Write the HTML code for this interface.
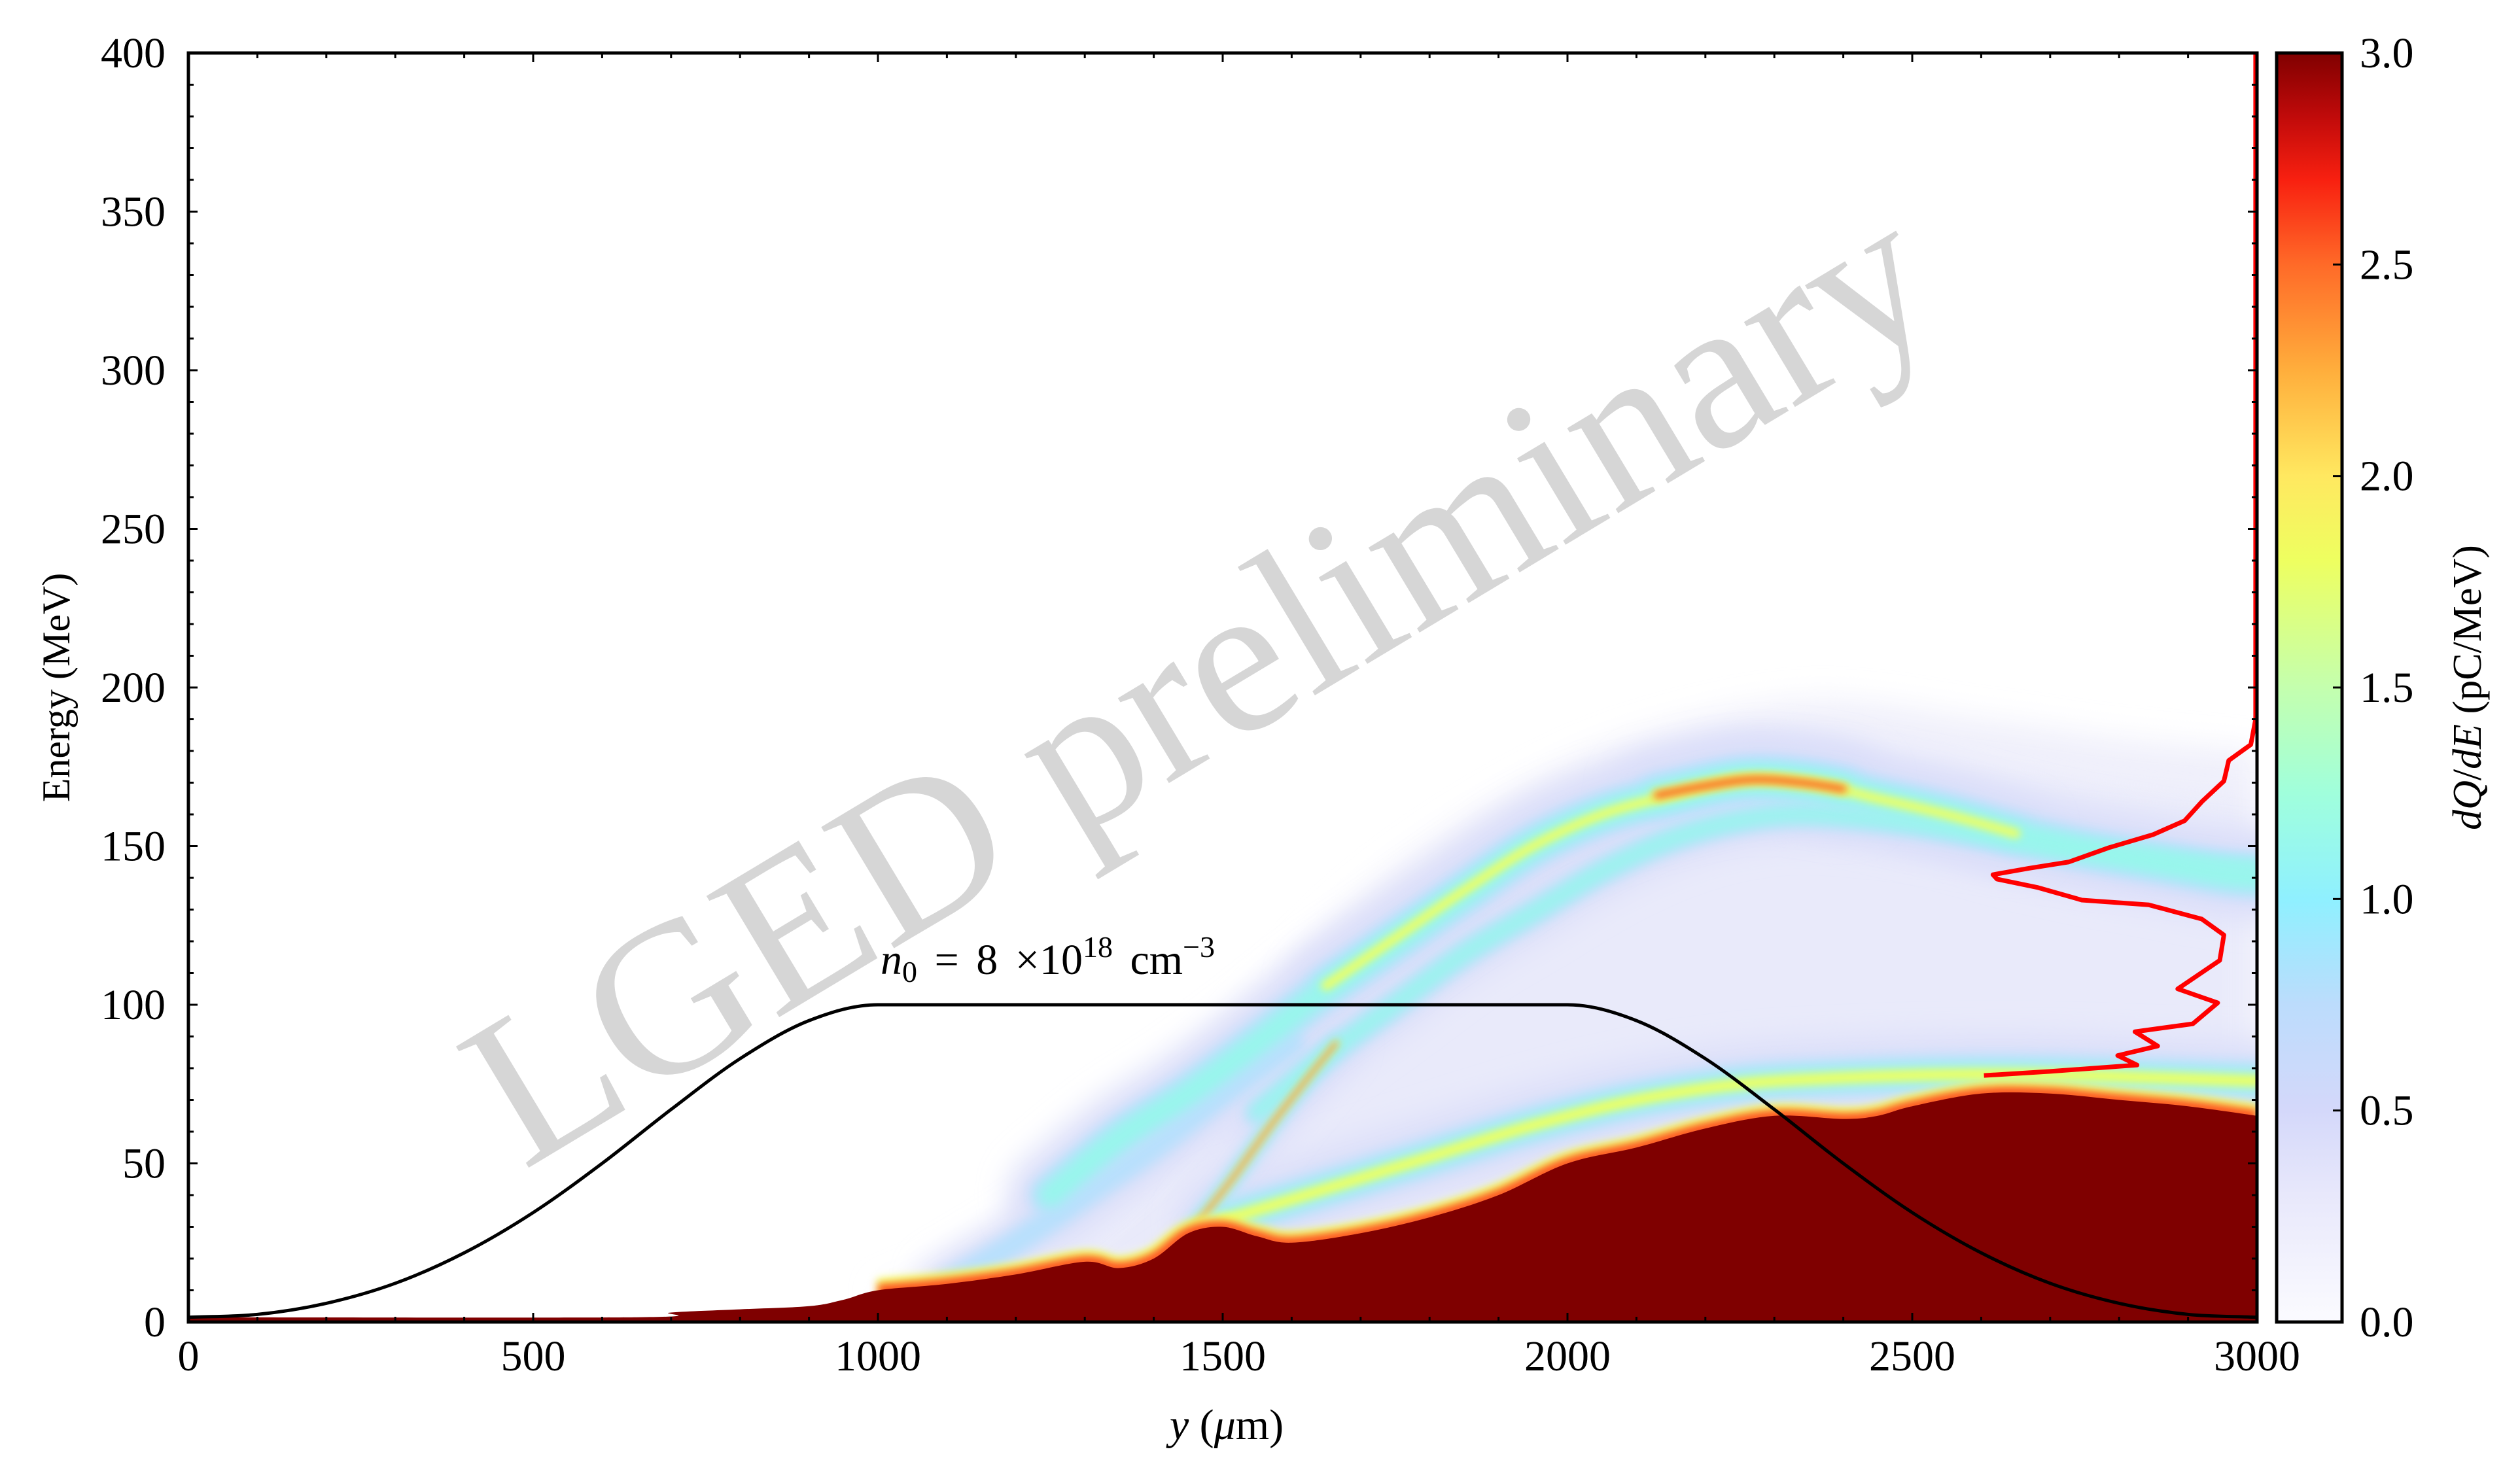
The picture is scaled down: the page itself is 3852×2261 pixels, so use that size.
<!DOCTYPE html>
<html><head><meta charset="utf-8">
<style>
html,body{margin:0;padding:0;background:#fff;}
svg{display:block;}
text{font-family:"Liberation Serif",serif;fill:#000;}
</style></head>
<body>
<svg id="chart" width="3852" height="2261" viewBox="0 0 3852 2261" xmlns="http://www.w3.org/2000/svg">
<defs>
  <clipPath id="plotClip"><rect x="288" y="81" width="3162" height="1940"/></clipPath>
  <filter id="blurWide" filterUnits="userSpaceOnUse" x="0" y="0" width="3852" height="2261"><feGaussianBlur stdDeviation="22"/></filter>
  <filter id="blurMid" filterUnits="userSpaceOnUse" x="0" y="0" width="3852" height="2261"><feGaussianBlur stdDeviation="10"/></filter>
  <filter id="blurSmall" filterUnits="userSpaceOnUse" x="0" y="0" width="3852" height="2261"><feGaussianBlur stdDeviation="6"/></filter>
  <linearGradient id="cbGrad" x1="0" y1="1" x2="0" y2="0">
    <stop offset="0" stop-color="#fbfbff"/>
    <stop offset="0.1" stop-color="#e8e8fb"/>
    <stop offset="0.1667" stop-color="#d4d8fa"/>
    <stop offset="0.25" stop-color="#bcdcfc"/>
    <stop offset="0.3333" stop-color="#8ff0ff"/>
    <stop offset="0.4167" stop-color="#a0ffdc"/>
    <stop offset="0.5" stop-color="#c4ffae"/>
    <stop offset="0.6" stop-color="#eeff60"/>
    <stop offset="0.6667" stop-color="#ffe860"/>
    <stop offset="0.75" stop-color="#ffae3c"/>
    <stop offset="0.8333" stop-color="#ff6a28"/>
    <stop offset="0.9" stop-color="#f82010"/>
    <stop offset="0.95" stop-color="#c00a0a"/>
    <stop offset="1" stop-color="#800000"/>
  </linearGradient>
</defs>
<g id="watermark-layer"></g>
<g id="heat-layer" clip-path="url(#plotClip)"></g>
<g id="line-layer" clip-path="url(#plotClip)"></g>
<g id="axes-layer"></g>
</svg>
<script>
// ---------- data ----------
const densityX = [0,100,200,300,400,500,600,700,800,900,1000,1100,1200,1300,1400,1500,1600,1700,1800,1900,2000,2100,2200,2300,2400,2500,2600,2700,2800,2900,3000];
const densityN = [1.5,2.4,5.9,12.2,21.8,34.5,50,67,83,95,100,100,100,100,100,100,100,100,100,100,100,95,83,67,50,34.5,21.8,12.2,5.9,2.4,1.5];

const boundaryX = [0,650,700,800,900,950,1000,1100,1200,1300,1350,1400,1450,1500,1550,1600,1700,1800,1900,2000,2100,2200,2300,2400,2450,2500,2600,2700,2800,2900,3000];
const boundaryE = [1.5,1.5,3,4,5,7,10,12,15,19,17,20,28,30,27,25,28,33,40,50,55,61,65,64,65,68,72,72,70,68,65];

const envelopeX = [1000,1100,1300,1500,1700,1900,2100,2350,2600,2800,3000];
const envelopeE = [10,20,48,92,135,165,185,196,190,184,180];

const upperBandX = [1250,1350,1450,1550,1650,1750,1850,1950,2050,2150,2250,2350,2450,2550,2650,2750,2850,2950,3000];
const upperBandE = [40,58,72,88,105,120,135,150,160,166,171,170,165,160,154,149,145,141,140];
const upperYellowX = [1650,1750,1850,1950,2050,2150,2250,2350,2450,2550,2650];
const upperYellowE = [106,121,136,150,160,166,171,170,165,160,154];
const innerBandX = [1550,1650,1750,1850,1950,2050,2150,2250,2350,2500,2700,2900,3000];
const innerBandE = [66,84,100,116,129,142,152,158,160,157,150,145,143];
const leftBandX = [1100,1200,1300,1400,1500,1600];
const leftBandE = [12,25,40,55,72,88];
const lowerBandX = [1500,1650,1800,1950,2100,2250,2400,2550,2700,2850,3000];
const lowerBandE = [32,42,52,62,70,75,77,78,78,77,76];
const streakX = [1455,1510,1570,1620,1665];
const streakE = [29,44,62,76,88];
const peakCoreX = [2130,2200,2270,2340,2400];
const peakCoreE = [166,169,171,170,168];

const spectrumX = [2604,2700,2826,2798,2856,2823,2907,2943,2885,2946,2952,2920,2843,2746,2681,2623,2617,2669,2727,2785,2849,2895,2920,2952,2959,2991,2998,2998];
const spectrumE = [77.7,79,81,84,87,91.5,94,100.6,105,114,122,127,131.5,133,137,139.6,141,143,145,149.5,153.6,158,164,170.5,177,182,190,400];

const xTicks = [0,500,1000,1500,2000,2500,3000];
const yTicks = [0,50,100,150,200,250,300,350,400];
const cbTicks = [0.0,0.5,1.0,1.5,2.0,2.5,3.0];

// ---------- scales ----------
const PL=288, PR=3450, PT=81, PB=2021;
const sx = v => PL + (v/3000)*(PR-PL);
const sy = v => PB - (v/400)*(PB-PT);
const CBL=3480, CBR=3580;
const cy = v => PB - (v/3)*(PB-PT);
const NS='http://www.w3.org/2000/svg';
function mk(tag, attrs, parent){const e=document.createElementNS(NS,tag);for(const k in attrs)e.setAttribute(k,attrs[k]);if(parent)parent.appendChild(e);return e;}
function smoothPath(xs, es){
  const p = xs.map((x,i)=>[sx(x), sy(es[i])]);
  let d = `M${p[0][0]},${p[0][1]}`;
  for(let i=0;i<p.length-1;i++){
    const p0=p[Math.max(0,i-1)], p1=p[i], p2=p[i+1], p3=p[Math.min(p.length-1,i+2)];
    const c1=[p1[0]+(p2[0]-p0[0])/6, p1[1]+(p2[1]-p0[1])/6];
    const c2=[p2[0]-(p3[0]-p1[0])/6, p2[1]-(p3[1]-p1[1])/6];
    d += ` C${c1[0]},${c1[1]} ${c2[0]},${c2[1]} ${p2[0]},${p2[1]}`;
  }
  return d;
}
function monotonePath(xs, ys){
  const n=xs.length, dl=[], m=new Array(n);
  for(let i=0;i<n-1;i++) dl.push((ys[i+1]-ys[i])/(xs[i+1]-xs[i]));
  m[0]=dl[0]; m[n-1]=dl[n-2];
  for(let i=1;i<n-1;i++) m[i] = (dl[i-1]*dl[i]<=0)?0:(dl[i-1]+dl[i])/2;
  for(let i=0;i<n-1;i++){ if(dl[i]===0){m[i]=0;m[i+1]=0;} }
  let d='';
  for(let i=0;i<n-1;i++){
    const h=xs[i+1]-xs[i];
    if(i===0) d+=`M${sx(xs[0])},${sy(ys[0])}`;
    d+=` C${sx(xs[i]+h/3)},${sy(ys[i]+m[i]*h/3)} ${sx(xs[i+1]-h/3)},${sy(ys[i+1]-m[i+1]*h/3)} ${sx(xs[i+1])},${sy(ys[i+1])}`;
  }
  return d;
}
function linePath(xs, es){return xs.map((x,i)=>(i?'L':'M')+sx(x)+','+sy(es[i])).join(' ');}

// ---------- watermark ----------
const wm = document.getElementById('watermark-layer');
const wt = mk('text',{x:800,y:1790,'font-size':330,fill:'#d6d6d6',textLength:2540,lengthAdjust:'spacingAndGlyphs',transform:'rotate(-31 800 1790)'},wm);


wt.style.fill='#d6d6d6';
wt.textContent='LGED preliminary';

// ---------- heatmap ----------
const heat = document.getElementById('heat-layer');
const envD = smoothPath(envelopeX, envelopeE) + ' L' + sx(3000)+','+sy(60) + ' L'+sx(2000)+','+sy(45)+' L'+sx(1400)+','+sy(18)+' L'+sx(1000)+','+sy(8)+' Z';
const env = mk('path',{d:envD,fill:'#f0f0fb',filter:'url(#blurWide)'},heat);


const env2 = mk('path',{d:envD,fill:'#e4e6fa',opacity:0.5,filter:'url(#blurWide)',transform:'translate(0,80)'},heat);



const bandLayers = [
  ['#dcdff9', 5, 'url(#blurWide)', 0],
  ['#b8e0fd', 2.4, 'url(#blurMid)', 0],
  ['#98f6ec', 1.4, 'url(#blurMid)', 1],
  ['#eaff66', 0.75, 'url(#blurSmall)', 2],
  ['#ff5a20', 0.4, 'url(#blurSmall)', 3]
];
const bands = [];
function band(name, xs, es, w, level){ bands.push({name, xs, es, w, level}); }
band('left-band', leftBandX, leftBandE, 16, 0);
band('inner-band', innerBandX, innerBandE, 16, 1);
band('upper-band', upperBandX, upperBandE, 26, 1);
band('upper-band-yellow', upperYellowX, upperYellowE, 20, 2);
band('lower-band', lowerBandX, lowerBandE, 24, 2);
band('peak-core', peakCoreX, peakCoreE, 26, 3);
band('red-streak', streakX, streakE, 10, 3);
// draw layer by layer across all bands so cores are never covered by glows
bandLayers.forEach((l, li)=>{
  bands.forEach(b=>{
    if(b.level < l[3]) return;
    const p = mk('path',{d:smoothPath(b.xs,b.es),fill:'none',stroke:l[0],'stroke-width':b.w*l[1],'stroke-linecap':'round',filter:l[2]},heat);
    
    
  });
});

// dark red bulk
const edgeStart = boundaryX.findIndex(v=>v>=1000);
const bEdgeUpper = smoothPath(boundaryX.slice(edgeStart), boundaryE.slice(edgeStart));
const bEdge = smoothPath(boundaryX, boundaryE);
const edge1 = mk('path',{d:bEdgeUpper,fill:'none',stroke:'#f4ff60','stroke-width':36,filter:'url(#blurSmall)'},heat);


const edge2 = mk('path',{d:bEdgeUpper,fill:'none',stroke:'#ff5020','stroke-width':18,filter:'url(#blurSmall)'},heat);


const bulk = mk('path',{d:bEdge+` L${sx(3000)+10},${sy(boundaryE[boundaryE.length-1])} L${sx(3000)+10},${PB+10} L${sx(0)-10},${PB+10} L${sx(0)-10},${sy(boundaryE[0])} Z`,fill:'#7f0000'},heat);



// ---------- lines ----------
const ll = document.getElementById('line-layer');
const dens = mk('path',{d:monotonePath(densityX,densityN),fill:'none',stroke:'#000','stroke-width':5},ll);


const spec = mk('path',{d:linePath(spectrumX,spectrumE),fill:'none',stroke:'#ff0000','stroke-width':7,'stroke-linejoin':'round'},ll);



// ---------- axes ----------
const ax = document.getElementById('axes-layer');
const ann = mk('text',{x:1346,y:1489,'font-size':66,'word-spacing':'10'},ax);


ann.innerHTML='<tspan font-style="italic">n</tspan><tspan font-size="46" dy="12">0</tspan><tspan dy="-12"> = 8 ×10</tspan><tspan font-size="46" dy="-26">18</tspan><tspan dy="26"> cm</tspan><tspan font-size="46" dy="-26">−3</tspan>';

for(let v=0; v<=3000; v+=100){
  const major = v%500===0, L = major?14:8;
  const t1=mk('line',{x1:sx(v),x2:sx(v),y1:PB,y2:PB-L,stroke:'#000','stroke-width':3},ax);
  
  
  const t2=mk('line',{x1:sx(v),x2:sx(v),y1:PT,y2:PT+L,stroke:'#000','stroke-width':3},ax);
  
  
}
for(let v=0; v<=400; v+=10){
  const major = v%50===0, L = major?14:8;
  const t1=mk('line',{x1:PL,x2:PL+L,y1:sy(v),y2:sy(v),stroke:'#000','stroke-width':3},ax);
  
  
  const t2=mk('line',{x1:PR,x2:PR-L,y1:sy(v),y2:sy(v),stroke:'#000','stroke-width':3},ax);
  
  
}
xTicks.forEach(v=>{
  const t=mk('text',{x:sx(v),y:2095,'font-size':66,'text-anchor':'middle'},ax);
  
  
  t.textContent=String(v);
});
yTicks.forEach(v=>{
  const t=mk('text',{x:253,y:sy(v)+22,'font-size':66,'text-anchor':'end'},ax);
  
  
  t.textContent=String(v);
});
const frame=mk('rect',{x:PL,y:PT,width:PR-PL,height:PB-PT,fill:'none',stroke:'#000','stroke-width':5},ax);



const xl=mk('text',{x:1875,y:2200,'font-size':66,'text-anchor':'middle'},ax);


xl.innerHTML='<tspan font-style="italic">y</tspan> (<tspan font-style="italic">μ</tspan>m)';
const yl=mk('text',{x:0,y:0,'font-size':60,'text-anchor':'middle',transform:'translate(106,1051) rotate(-90)'},ax);


yl.textContent='Energy (MeV)';

const cb=mk('rect',{x:CBL,y:PT,width:CBR-CBL,height:PB-PT,fill:'url(#cbGrad)',stroke:'#000','stroke-width':5},ax);


cbTicks.forEach(v=>{
  const t=mk('line',{x1:CBR,x2:CBR-14,y1:cy(v),y2:cy(v),stroke:'#000','stroke-width':3},ax);
  
  
  const l=mk('text',{x:3607,y:cy(v)+22,'font-size':66},ax);
  
  
  l.textContent=v.toFixed(1);
});
const cl=mk('text',{x:0,y:0,'font-size':62,'text-anchor':'middle',transform:'translate(3792,1051) rotate(-90)'},ax);


cl.innerHTML='<tspan font-style="italic">dQ</tspan>/<tspan font-style="italic">dE</tspan> (pC/MeV)';
</script>
</body></html>
